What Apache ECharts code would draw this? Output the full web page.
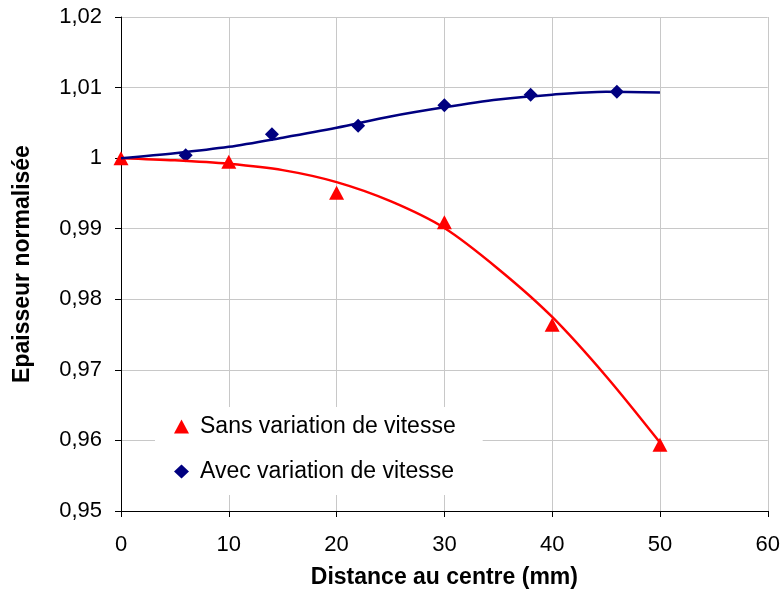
<!DOCTYPE html>
<html>
<head>
<meta charset="utf-8">
<script src="https://cdn.jsdelivr.net/npm/echarts@6/dist/echarts.min.js"></script>
<style>
  html, body { margin: 0; padding: 0; background: #ffffff; }
  #chart { width: 783px; height: 594px; }
</style>
</head>
<body>
<div id="chart"></div>
<script>
// Measured points
const redName = 'Sans variation de vitesse';
const blueName = 'Avec variation de vitesse';
const redX = [0, 10, 20, 30, 40, 50];
const redValues = [1.0000, 0.9995, 0.9951, 0.9909, 0.9764, 0.9594];
const blueX = [6, 14, 22, 30, 38, 46];
const blueValues = [1.0004, 1.0034, 1.0046, 1.0075, 1.0090, 1.0094];
// Trend curves
const trendX = [0, 5, 10, 15, 20, 25, 30, 35, 40, 45, 50];
const redTrend = [1.0000, 0.9997, 0.9992, 0.9983, 0.9966, 0.9939, 0.9901, 0.9843, 0.9775, 0.9691, 0.9597];
const blueTrend = [1.0000, 1.0007, 1.0016, 1.0029, 1.0043, 1.0059, 1.0072, 1.0083, 1.0090, 1.0094, 1.0093];
// Tick labels
const yTickLabels = ['0,95', '0,96', '0,97', '0,98', '0,99', '1', '1,01', '1,02'];
const xTickLabels = ['0', '10', '20', '30', '40', '50', '60'];

const pair = (xs, ys) => xs.map((x, i) => [x, ys[i]]);
const FONT = 'Liberation Sans, Arial, sans-serif';

const chart = echarts.init(document.getElementById('chart'), null, { renderer: 'canvas' });
chart.setOption({
  backgroundColor: '#ffffff',
  animation: false,
  grid: { left: 121, right: 12, top: 17, bottom: 81.5, containLabel: false },
  legend: {
    orient: 'vertical',
    left: 155,
    top: 407,
    padding: [8, 27, 12, 19],
    itemGap: 22,
    itemWidth: 15,
    itemHeight: 14,
    backgroundColor: '#ffffff',
    textStyle: { fontFamily: FONT, fontSize: 23, color: '#000000', lineHeight: 22, padding: [0, 0, 0, 6] },
    data: [
      { name: redName, icon: 'triangle' },
      { name: blueName, icon: 'diamond' }
    ]
  },
  xAxis: {
    type: 'value',
    min: 0, max: 60, interval: 10,
    name: 'Distance au centre (mm)',
    nameLocation: 'middle',
    nameGap: 55,
    nameTextStyle: { fontFamily: FONT, fontSize: 23, fontWeight: 'bold', color: '#000000' },
    axisLine: { show: true, onZero: false, lineStyle: { color: '#000000', width: 1 } },
    axisTick: { show: true, inside: false, length: 6, lineStyle: { color: '#000000' } },
    axisLabel: {
      fontFamily: FONT, fontSize: 22, color: '#000000', margin: 23,
      formatter: v => xTickLabels[Math.round(v / 10)]
    },
    splitLine: { show: true, lineStyle: { color: '#c8c8c8', width: 1 } }
  },
  yAxis: {
    type: 'value',
    min: 0.95, max: 1.02, interval: 0.01,
    name: 'Epaisseur normalisée',
    nameLocation: 'middle',
    nameGap: 87,
    nameRotate: 90,
    nameTextStyle: { fontFamily: FONT, fontSize: 23, fontWeight: 'bold', color: '#000000' },
    axisLine: { show: true, onZero: false, lineStyle: { color: '#000000', width: 1 } },
    axisTick: { show: true, inside: false, length: 6, lineStyle: { color: '#000000' } },
    axisLabel: {
      fontFamily: FONT, fontSize: 22, color: '#000000', margin: 19,
      formatter: v => yTickLabels[Math.round((v - 0.95) / 0.01)]
    },
    splitLine: { show: true, lineStyle: { color: '#c8c8c8', width: 1 } }
  },
  series: [
    {
      name: blueName, type: 'scatter', data: pair(blueX, blueValues),
      symbol: 'diamond', symbolSize: 14,
      itemStyle: { color: '#000080', opacity: 1 }, z: 3
    },
    {
      name: redName, type: 'scatter', data: pair(redX, redValues),
      symbol: 'triangle', symbolSize: [15, 14],
      itemStyle: { color: '#ff0000', opacity: 1 }, z: 4
    },
    {
      name: 'trend-red', type: 'line', data: pair(trendX, redTrend),
      smooth: 0.3, showSymbol: false, symbol: 'none',
      lineStyle: { color: '#ff0000', width: 2.5 }, z: 5
    },
    {
      name: 'trend-blue', type: 'line', data: pair(trendX, blueTrend),
      smooth: 0.3, showSymbol: false, symbol: 'none',
      lineStyle: { color: '#000080', width: 2.5 }, z: 6
    }
  ]
});
</script>
</body>
</html>
